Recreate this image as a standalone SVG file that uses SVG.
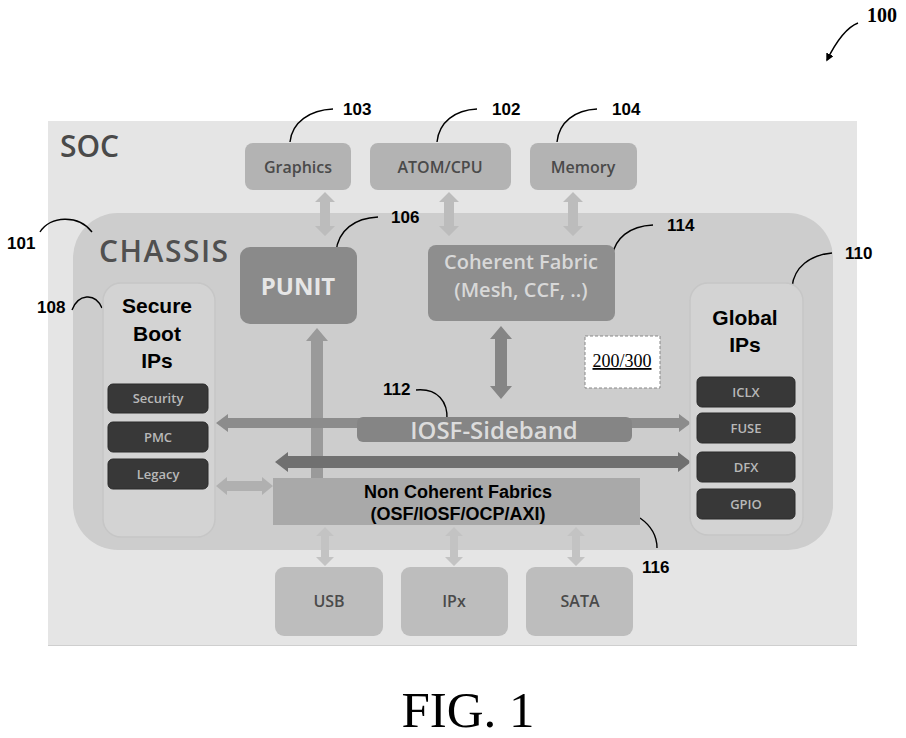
<svg xmlns="http://www.w3.org/2000/svg" width="906" height="738" viewBox="0 0 906 738">
  <defs>
    <style>
      .soft { font-family: "Open Sans", "Liberation Sans", sans-serif; }
      .lbl { font-family: "Liberation Sans", Arial, sans-serif; font-weight: bold; font-size: 17px; fill: #000; }
      .lead { fill: none; stroke: #000; stroke-width: 1.4; }
      .topbox { fill: #b3b3b3; }
      .botbox { fill: #bdbdbd; }
      .boxtxt { font-family: "Open Sans", "Liberation Sans", sans-serif; font-weight: 600; font-size: 16px; fill: #4a4a4a; text-anchor: middle; }
      .dark { fill: #383838; stroke: #2a2a2a; stroke-width: 1; }
      .darktxt { font-family: "Open Sans", "Liberation Sans", sans-serif; font-weight: 600; font-size: 13px; fill: #b8b8b8; text-anchor: middle; }
      .col { fill: #d3d3d3; stroke: #c6c6c6; stroke-width: 1.5; }
      .bold { font-family: "Liberation Sans", Arial, sans-serif; font-weight: bold; fill: #000; text-anchor: middle; }
    </style>
    <marker id="ah" viewBox="0 0 10 10" refX="8" refY="5" markerWidth="8" markerHeight="8" markerUnits="userSpaceOnUse" orient="auto">
      <path d="M0,0 L10,5 L0,10 Z" fill="#000"/>
    </marker>
  </defs>

  <rect width="906" height="738" fill="#fff"/>

  <!-- SOC background -->
  <g id="soc">
    <rect x="48" y="121" width="809" height="525" fill="#e5e5e5"/>
    <line x1="48" y1="645.5" x2="857" y2="645.5" stroke="#cfcfcf" stroke-width="1"/>
    <text x="60" y="157" class="soft" font-size="30" font-weight="600" fill="#4a4a4a">SOC</text>
  </g>

  <!-- Chassis -->
  <g id="chassis">
    <rect x="73" y="213" width="760" height="337" rx="45" fill="#cdcdcd"/>
    <text x="99" y="262" class="soft" font-size="30" font-weight="600" letter-spacing="1.5" fill="#505050">CHASSIS</text>
  </g>

  <!-- Connectors -->
  <g id="connectors">
    <!-- top vertical double arrows -->
    <polygon points="325,192 335,202 330,202 330,226 335,226 325,236 315,226 320,226 320,202 315,202" fill="#bcbcbc"/>
    <polygon points="449,192 459,202 454,202 454,226 459,226 449,236 439,226 444,226 444,202 439,202" fill="#bcbcbc"/>
    <polygon points="573,192 583,202 578,202 578,226 583,226 573,236 563,226 568,226 568,202 563,202" fill="#bcbcbc"/>
    <!-- PUNIT vertical -->
    <polygon points="317,328 328,341 323,341 323,478 311,478 311,341 306,341" fill="#9a9a9a"/>
    <!-- Coherent vertical -->
    <polygon points="501,326 512,339 507,339 507,386 512,386 501,399 490,386 495,386 495,339 490,339" fill="#858585"/>
    <!-- upper horizontal (sideband) -->
    <polygon points="216,423 228,414 228,418 679,418 679,414 691,423 679,432 679,428 228,428 228,432" fill="#8c8c8c"/>
    <!-- lower horizontal -->
    <polygon points="275,462 288,452 288,456 678,456 678,452 691,462 678,472 678,468 288,468 288,472" fill="#707070"/>
    <!-- small left arrow -->
    <polygon points="216,486 227,477 227,481 262,481 262,477 273,486 262,495 262,491 227,491 227,495" fill="#b0b0b0"/>
    <!-- bottom vertical double arrows -->
    <polygon points="325,527 334,536 329,536 329,557 334,557 325,566 316,557 321,557 321,536 316,536" fill="#c3c3c3"/>
    <polygon points="454,527 463,536 458,536 458,557 463,557 454,566 445,557 450,557 450,536 445,536" fill="#c3c3c3"/>
    <polygon points="576,527 585,536 580,536 580,557 585,557 576,566 567,557 572,557 572,536 567,536" fill="#c3c3c3"/>

    <!-- reference leaders -->
    <path class="lead" d="M290,142 C292,122 310,110 333,109"/>
    <path class="lead" d="M437,142 C439,122 455,110 477,109"/>
    <path class="lead" d="M557,142 C559,122 575,110 597,109"/>
    <path class="lead" d="M336,252 C338,230 355,218 378,217"/>
    <path class="lead" d="M612,258 C614,238 630,226 653,225"/>
    <path class="lead" d="M792,287 C794,267 810,255 832,253"/>
    <path class="lead" d="M40,232 C50,216 78,214 92,232"/>
    <path class="lead" d="M72,310 C78,294 95,292 102,308"/>
    <path class="lead" d="M416,390 C438,388 448,402 447,420"/>
    <path class="lead" d="M640,518 C650,525 657,535 657,548"/>
    <path class="lead" d="M858,23 C845,28 835,44 827,60" marker-end="url(#ah)"/>
  </g>

  <!-- Top nodes -->
  <g id="graphics">
    <rect x="245" y="143" width="106" height="47" rx="8" class="topbox"/>
    <text x="298" y="173" class="boxtxt">Graphics</text>
  </g>
  <g id="atom-cpu">
    <rect x="370" y="143" width="141" height="47" rx="8" class="topbox"/>
    <text x="440" y="173" class="boxtxt">ATOM/CPU</text>
  </g>
  <g id="memory">
    <rect x="530" y="143" width="107" height="47" rx="8" class="topbox"/>
    <text x="583" y="173" class="boxtxt">Memory</text>
  </g>

  <!-- PUNIT -->
  <g id="punit">
    <rect x="240" y="247" width="117" height="77" rx="10" fill="#8a8a8a"/>
    <text x="298" y="295" class="soft" font-size="24" font-weight="700" fill="#e6e6e6" text-anchor="middle">PUNIT</text>
  </g>

  <!-- Coherent Fabric -->
  <g id="coherent-fabric">
    <rect x="428" y="245" width="187" height="76" rx="8" fill="#8e8e8e"/>
    <text x="521" y="269" class="soft" font-size="20" font-weight="600" fill="#d8d8d8" text-anchor="middle">Coherent Fabric</text>
    <text x="521" y="297" class="soft" font-size="20" font-weight="600" fill="#d8d8d8" text-anchor="middle">(Mesh, CCF, ..)</text>
  </g>

  <!-- Secure Boot IPs -->
  <g id="secure-boot-ips">
    <rect x="103" y="283" width="112" height="254" rx="18" class="col"/>
    <text x="157" y="313" class="bold" font-size="21">Secure</text>
    <text x="157" y="341" class="bold" font-size="21">Boot</text>
    <text x="157" y="368" class="bold" font-size="21">IPs</text>
    <g id="security">
      <rect x="108" y="384" width="100" height="29" rx="5" class="dark"/>
      <text x="158" y="403" class="darktxt">Security</text>
    </g>
    <g id="pmc">
      <rect x="108" y="422" width="100" height="30" rx="5" class="dark"/>
      <text x="158" y="442" class="darktxt">PMC</text>
    </g>
    <g id="legacy">
      <rect x="108" y="459" width="100" height="30" rx="5" class="dark"/>
      <text x="158" y="479" class="darktxt">Legacy</text>
    </g>
  </g>

  <!-- Global IPs -->
  <g id="global-ips">
    <rect x="690" y="283" width="113" height="252" rx="18" class="col"/>
    <text x="745" y="325" class="bold" font-size="21">Global</text>
    <text x="745" y="352" class="bold" font-size="21">IPs</text>
    <g id="iclx">
      <rect x="697" y="377" width="98" height="30" rx="5" class="dark"/>
      <text x="746" y="397" class="darktxt">ICLX</text>
    </g>
    <g id="fuse">
      <rect x="697" y="413" width="98" height="30" rx="5" class="dark"/>
      <text x="746" y="433" class="darktxt">FUSE</text>
    </g>
    <g id="dfx">
      <rect x="697" y="452" width="98" height="30" rx="5" class="dark"/>
      <text x="746" y="472" class="darktxt">DFX</text>
    </g>
    <g id="gpio">
      <rect x="697" y="489" width="98" height="30" rx="5" class="dark"/>
      <text x="746" y="509" class="darktxt">GPIO</text>
    </g>
  </g>

  <!-- IOSF Sideband -->
  <g id="iosf-sideband">
    <rect x="357" y="417" width="275" height="25" rx="6" fill="#858585"/>
    <text x="494" y="439" class="soft" font-size="24" font-weight="600" fill="#dcdcdc" text-anchor="middle">IOSF-Sideband</text>
  </g>

  <!-- Non Coherent Fabrics -->
  <g id="non-coherent-fabrics">
    <rect x="273" y="478" width="367" height="47" fill="#a9a9a9"/>
    <text x="458" y="498" class="bold" font-size="18">Non Coherent Fabrics</text>
    <text x="458" y="520" class="bold" font-size="18">(OSF/IOSF/OCP/AXI)</text>
  </g>

  <!-- Bottom nodes -->
  <g id="usb">
    <rect x="275" y="567" width="108" height="69" rx="9" class="botbox"/>
    <text x="329" y="607" class="boxtxt">USB</text>
  </g>
  <g id="ipx">
    <rect x="401" y="567" width="107" height="69" rx="9" class="botbox"/>
    <text x="454" y="607" class="boxtxt">IPx</text>
  </g>
  <g id="sata">
    <rect x="526" y="567" width="107" height="69" rx="9" class="botbox"/>
    <text x="580" y="607" class="boxtxt">SATA</text>
  </g>

  <!-- 200/300 tag -->
  <g id="tag-200-300">
    <rect x="585" y="336" width="75" height="52" fill="#fff" stroke="#888" stroke-width="1" stroke-dasharray="3,2"/>
    <text x="622" y="367" font-family="Liberation Serif, 'Times New Roman', serif" font-size="18" fill="#000" text-anchor="middle" text-decoration="underline">200/300</text>
  </g>

  <!-- reference numerals -->
  <g id="labels">
    <text x="343" y="115" class="lbl">103</text>
    <text x="492" y="115" class="lbl">102</text>
    <text x="612" y="115" class="lbl">104</text>
    <text x="391" y="223" class="lbl">106</text>
    <text x="667" y="231" class="lbl">114</text>
    <text x="845" y="259" class="lbl">110</text>
    <text x="7" y="249" class="lbl">101</text>
    <text x="37" y="313" class="lbl">108</text>
    <text x="383" y="395" class="lbl">112</text>
    <text x="642" y="573" class="lbl">116</text>
    <text x="867" y="22" font-family="Liberation Serif, 'Times New Roman', serif" font-weight="bold" font-size="20" fill="#000">100</text>
  </g>

  <text x="468" y="727" font-family="Liberation Serif, 'Times New Roman', serif" font-size="51" fill="#000" text-anchor="middle">FIG. 1</text>
</svg>
